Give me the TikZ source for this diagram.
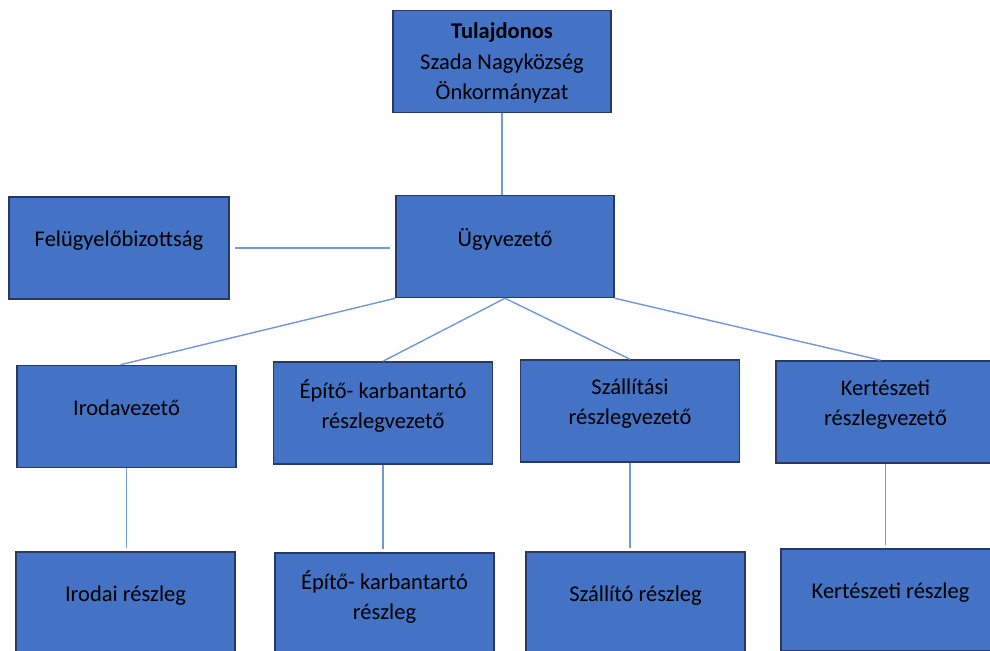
\documentclass[tikz,border=0pt]{standalone}
\usepackage{fontspec}
\setmainfont{Carlito}
\usepackage{tikz}
\usetikzlibrary{positioning, calc}
\definecolor{boxFill}{RGB}{68,114,196}
\definecolor{boxLine}{RGB}{40,58,100}
\definecolor{connLine}{RGB}{112,152,218}
\tikzstyle{unit}  = [draw=boxLine, fill=boxFill, line width=0.9pt, align=center,
                     minimum width=4.38cm, minimum height=2.04cm, text depth=0.36cm,
                     font=\fontsize{12.8}{17.2}\selectfont]
\tikzstyle{conn}  = [draw=connLine, line width=0.8pt]

\begin{document}
\begin{tikzpicture}[x=0.02cm, y=-0.02cm]
% page: 990 x 651 px, y down
\useasboundingbox (0,0) rectangle (990,651);
\clip (0,0) rectangle (990,651);
% top level
\node[unit, text depth=0pt, minimum width=4.36cm, font=\fontsize{12.8}{17.4}\selectfont]
  (owner) at (502,61.5) {\textbf{Tulajdonos}\\Szada Nagyközség\\Önkormányzat};
\node[unit, minimum width=4.4cm] (board) at (119,248) {Felügyelőbizottság};
\node[unit, minimum width=4.36cm] (ceo) at (505,246.5) {Ügyvezető};
% heads
\node[unit] (hOffice) at (126.5,416.5) {Irodavezető};
\node[unit] (hBuild)  at (383,413)     {Építő- karbantartó\\részlegvezető};
\node[unit] (hShip)   at (630,411)     {Szállítási\\részlegvezető};
\node[unit] (hGarden) at (885.5,412)   {Kertészeti\\részlegvezető};
% departments
\node[unit] (dOffice) at (125.5,603) {Irodai részleg};
\node[unit] (dBuild)  at (384.5,604) {Építő- karbantartó\\részleg};
\node[unit] (dShip)   at (635.5,603) {Szállító részleg};
\node[unit] (dGarden) at (890.5,600) {Kertészeti részleg};
% connectors
\draw[conn] (owner.south) -- (owner.south |- ceo.north);
\draw[conn, shorten <=3pt, shorten >=3pt] (board.east) -- (board.east -| ceo.west);
\draw[conn] (ceo.south west) -- ($(hOffice.north)+(-6,0)$);
\draw[conn] (ceo.south) -- (hBuild.north);
\draw[conn] (ceo.south) -- (hShip.north);
\draw[conn] (ceo.south east) -- ($(hGarden.north)+(-5,0)$);
\foreach \h/\d in {hOffice/dOffice, hBuild/dBuild, hShip/dShip, hGarden/dGarden}{
  \draw[conn, shorten >=2pt] (\h.south) -- (\h.south |- \d.north);
}
\end{tikzpicture}
\end{document}
